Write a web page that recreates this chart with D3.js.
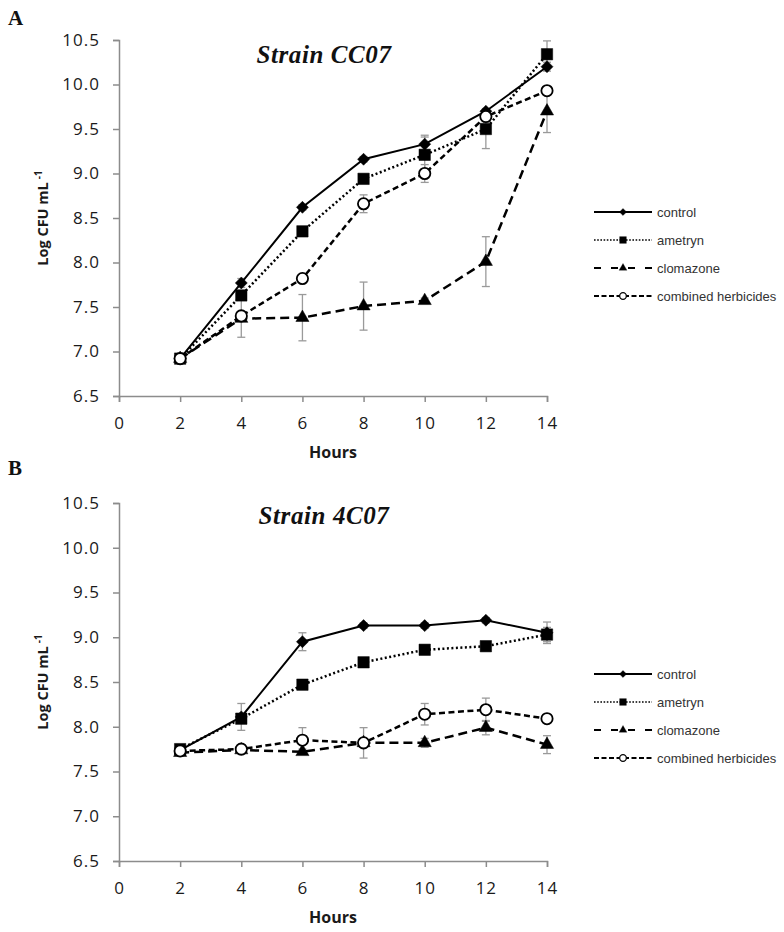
<!DOCTYPE html>
<html><head><meta charset="utf-8">
<script src="https://cdn.jsdelivr.net/npm/d3@7"></script>
<style>body{margin:0;background:#fff}svg{display:block}</style>
</head><body><svg id="c" width="784" height="932"></svg>
<script>
const hours = [2,4,6,8,10,12,14];
const seriesNames = ["control","ametryn","clomazone","combined herbicides"];
const yTicks = [6.5,7.0,7.5,8.0,8.5,9.0,9.5,10.0,10.5];
const xTicks = [0,2,4,6,8,10,12,14];
// Panel A: Strain CC07
const A_control   = [6.92,7.77,8.62,9.16,9.33,9.70,10.20];
const A_ametryn   = [6.92,7.63,8.35,8.94,9.21,9.50,10.34];
const A_clomazone = [6.92,7.37,7.38,7.51,7.57,8.01,9.70];
const A_combined  = [6.92,7.40,7.82,8.66,9.00,9.64,9.93];
const A_control_err   = [0.02,0.05,0.03,0.03,0.10,0.03,0.05];
const A_ametryn_err   = [0.02,0.05,0.04,0.04,0.20,0.22,0.15];
const A_clomazone_err = [0.02,0.21,0.26,0.27,0.03,0.28,0.24];
const A_combined_err  = [0.02,0.05,0.04,0.10,0.10,0.05,0.05];
// Panel B: Strain 4C07
const B_control   = [7.74,8.11,8.95,9.13,9.13,9.19,9.05];
const B_ametryn   = [7.75,8.09,8.47,8.72,8.86,8.90,9.03];
const B_clomazone = [7.71,7.74,7.72,7.82,7.82,7.99,7.80];
const B_combined  = [7.73,7.75,7.85,7.82,8.14,8.19,8.09];
const B_control_err   = [0.03,0.15,0.10,0.03,0.03,0.03,0.12];
const B_ametryn_err   = [0.03,0.05,0.03,0.03,0.03,0.03,0.08];
const B_clomazone_err = [0.03,0.03,0.03,0.05,0.05,0.08,0.10];
const B_combined_err  = [0.03,0.05,0.14,0.17,0.12,0.13,0.05];

const svg = d3.select("#c");
const styles = {
  "control":{dash:null, w:2, sym:d3.symbolSquare, rot:45, size:72, fill:"#000"},
  "ametryn":{dash:"2,2.5", w:2.5, sym:d3.symbolSquare, rot:0, size:130, fill:"#000"},
  "clomazone":{dash:"9,5", w:2.5, sym:d3.symbolTriangle, rot:0, size:75, fill:"#000"},
  "combined herbicides":{dash:"6,3.5", w:2.5, sym:d3.symbolCircle, rot:0, size:100, fill:"#fff"}
};
const tickFont = "'Open Sans',sans-serif";

function panel(cfg){
  const x = d3.scaleLinear().domain([0,14]).range([119,547]);
  const y = d3.scaleLinear().domain([6.5,10.5]).range([cfg.bottom,cfg.top]);
  const g = svg.append("g");
  const ya = g.append("g").attr("transform","translate(119,0)")
    .call(d3.axisLeft(y).tickValues(yTicks).tickFormat(d3.format(".1f")).tickSizeOuter(0).tickSize(6));
  const xa = g.append("g").attr("transform",`translate(0,${cfg.bottom})`)
    .call(d3.axisBottom(x).tickValues(xTicks).tickFormat(d3.format("d")).tickSizeOuter(0).tickSize(6));
  [ya,xa].forEach(a=>{
    a.select(".domain").attr("stroke","#8c8c8c").attr("stroke-width",1.5);
    a.selectAll(".tick line").attr("stroke","#8c8c8c").attr("stroke-width",1.5);
    a.selectAll(".tick text").attr("fill","#1a1a1a").style("font-family",tickFont).style("font-size","17px").style("letter-spacing","1px");
  });
  ya.selectAll(".tick text").attr("x",-19);
  xa.selectAll(".tick text").attr("y",21);
  g.append("text").attr("x",333).attr("y",cfg.bottom+62).attr("text-anchor","middle")
    .style("font-family",tickFont).style("font-weight","bold").style("font-size","16px").attr("fill","#1a1a1a").text("Hours");
  const yl = g.append("text").attr("transform",`translate(48,${(cfg.top+cfg.bottom)/2}) rotate(-90)`).attr("text-anchor","middle")
    .style("font-family",tickFont).style("font-weight","bold").style("font-size","14.5px").attr("fill","#1a1a1a");
  yl.append("tspan").text("Log CFU mL");
  yl.append("tspan").attr("dy",-6).attr("dx",3).style("font-size","10px").text("-1");
  g.append("text").attr("x",324).attr("y",cfg.titleY).attr("text-anchor","middle")
    .style("font-family","'Liberation Serif',serif").style("font-weight","bold").style("font-style","italic").style("font-size","25px").style("letter-spacing","0.6px").attr("fill","#111").text(cfg.title);
  g.append("text").attr("x",8).attr("y",cfg.letterY)
    .style("font-family","'Liberation Serif',serif").style("font-weight","bold").style("font-size","21px").attr("fill","#111").text(cfg.letter);
  // error bars
  cfg.series.forEach(s=>{
    const eg = g.append("g");
    s.vals.forEach((v,i)=>{
      const e = s.err[i], xx = x(hours[i]);
      eg.append("line").attr("x1",xx).attr("x2",xx).attr("y1",y(v-e)).attr("y2",y(v+e)).attr("stroke","#9a9a9a").attr("stroke-width",1.3);
      [v-e,v+e].forEach(t=>eg.append("line").attr("x1",xx-4).attr("x2",xx+4).attr("y1",y(t)).attr("y2",y(t)).attr("stroke","#9a9a9a").attr("stroke-width",1.3));
    });
  });
  const line = d3.line().x((d,i)=>x(hours[i])).y(d=>y(d));
  cfg.series.forEach(s=>{
    const st = styles[s.name];
    g.append("path").datum(s.vals).attr("d",line).attr("fill","none").attr("stroke","#000")
      .attr("stroke-width",st.w).attr("stroke-dasharray",st.dash);
  });
  cfg.series.forEach(s=>{
    const st = styles[s.name];
    g.selectAll(null).data(s.vals).enter().append("path")
      .attr("transform",(d,i)=>`translate(${x(hours[i])},${y(d)}) rotate(${st.rot})`)
      .attr("d",d3.symbol().type(st.sym).size(st.size))
      .attr("fill",st.fill).attr("stroke","#000").attr("stroke-width",st.fill==="#fff"?1.8:0.5);
  });
  // legend
  const lg = g.append("g");
  seriesNames.forEach((n,i)=>{
    const st = styles[n], ly = cfg.legendY + i*28;
    const lw = n==="ametryn"?1.6:(n==="control"?2:2.2);
    const dash = n==="ametryn"?"1.6,1.6":(n==="clomazone"?"7,10":(n==="combined herbicides"?"5,2.5":null));
    lg.append("line").attr("x1",594).attr("x2",652).attr("y1",ly).attr("y2",ly).attr("stroke","#000").attr("stroke-width",lw).attr("stroke-dasharray",dash);
    lg.append("path").attr("transform",`translate(623,${ly}) rotate(${st.rot})`).attr("d",d3.symbol().type(st.sym).size(st.size*0.35))
      .attr("fill",st.fill).attr("stroke","#000").attr("stroke-width",st.fill==="#fff"?1.3:0.3);
    lg.append("text").attr("x",657).attr("y",ly+4.5).style("font-family","'Liberation Sans',Arial,sans-serif").style("font-size","13px").attr("fill","#333").text(n);
  });
}

panel({top:40,bottom:396,title:"Strain CC07",titleY:63,letter:"A",letterY:25,legendY:212,
  series:[{name:"control",vals:A_control,err:A_control_err},{name:"ametryn",vals:A_ametryn,err:A_ametryn_err},
          {name:"clomazone",vals:A_clomazone,err:A_clomazone_err},{name:"combined herbicides",vals:A_combined,err:A_combined_err}]});
panel({top:503,bottom:861,title:"Strain 4C07",titleY:524,letter:"B",letterY:475,legendY:674,
  series:[{name:"control",vals:B_control,err:B_control_err},{name:"ametryn",vals:B_ametryn,err:B_ametryn_err},
          {name:"clomazone",vals:B_clomazone,err:B_clomazone_err},{name:"combined herbicides",vals:B_combined,err:B_combined_err}]});
</script></body></html>
